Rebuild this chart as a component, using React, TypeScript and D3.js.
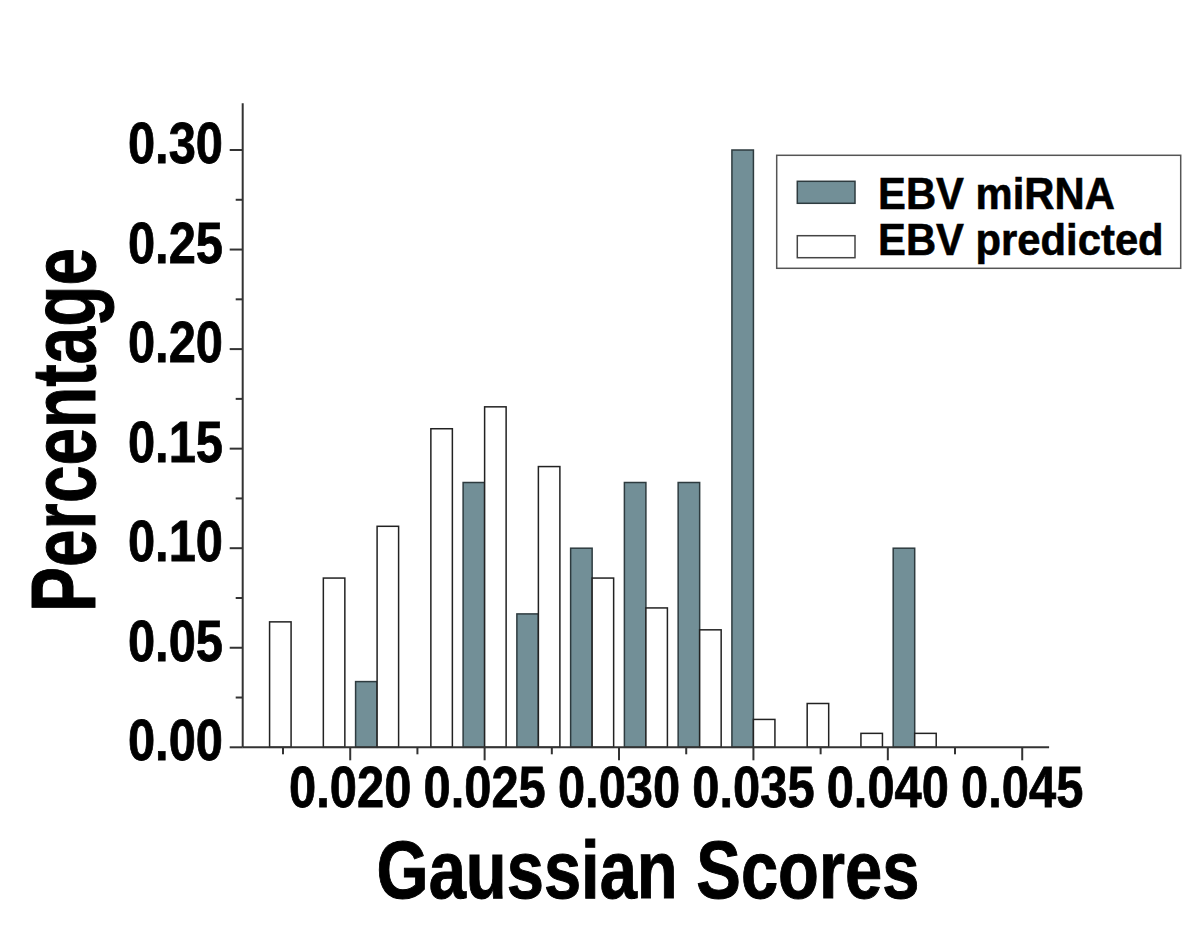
import React from "react";
import * as d3 from "d3";

// histogram bins (centre of each pair of bars)
const binCenters = [0.017, 0.019, 0.021, 0.023, 0.025, 0.027, 0.029, 0.031, 0.033, 0.035, 0.037, 0.039, 0.041];
const mirnaValues = [0, 0, 0.033, 0, 0.133, 0.067, 0.1, 0.133, 0.133, 0.3, 0, 0, 0.1];
const predictedValues = [0.063, 0.085, 0.111, 0.16, 0.171, 0.141, 0.085, 0.07, 0.059, 0.014, 0.022, 0.007, 0.007];

const xMajorTicks = [0.02, 0.025, 0.03, 0.035, 0.04, 0.045];
const xMinorTicks = [0.0175, 0.0225, 0.0275, 0.0325, 0.0375, 0.0425];
const yMajorTicks = [0, 0.05, 0.1, 0.15, 0.2, 0.25, 0.3];
const yMinorTicks = [0.025, 0.075, 0.125, 0.175, 0.225, 0.275];

const seriesNames = ["EBV miRNA", "EBV predicted"];

const W = 1200;
const H = 925;
const FONT = "'Liberation Sans', Arial, Helvetica, sans-serif";
const BLUE = "#728f97";
const BAR_W = 0.0008;

export default function App() {
  const x = d3.scaleLinear().domain([0.016, 0.046]).range([242.7, 1049.1]);
  const y = d3.scaleLinear().domain([0, 0.3]).range([747.3, 150]);
  const x0 = x.range()[0];
  const y0 = y(0);

  const fx = d3.format(".3f");
  const fy = d3.format(".2f");

  return (
    <svg
      width={W}
      height={H}
      style={{ position: "absolute", left: 0, top: 0, background: "#fff" }}
      fontFamily={FONT}
      fontWeight="bold"
    >
      {/* bars */}
      <g>
        {binCenters.map((c, i) =>
          mirnaValues[i] > 0 ? (
            <rect
              key={"m" + i}
              x={x(c - BAR_W)}
              y={y(mirnaValues[i])}
              width={x(c) - x(c - BAR_W)}
              height={y0 - y(mirnaValues[i])}
              fill={BLUE}
              stroke="#2e3b3f"
              strokeWidth={1.5}
            />
          ) : null
        )}
        {binCenters.map((c, i) =>
          predictedValues[i] > 0 ? (
            <rect
              key={"p" + i}
              x={x(c)}
              y={y(predictedValues[i])}
              width={x(c + BAR_W) - x(c)}
              height={y0 - y(predictedValues[i])}
              fill="#fff"
              stroke="#222"
              strokeWidth={1.5}
            />
          ) : null
        )}
      </g>

      {/* y axis */}
      <g stroke="#333" strokeWidth={2}>
        <line x1={x0} x2={x0} y1={y(0.3235)} y2={y0} />
        {yMajorTicks.map((t) => (
          <line key={t} x1={x0 - 13} x2={x0} y1={y(t)} y2={y(t)} />
        ))}
        {yMinorTicks.map((t) => (
          <line key={t} x1={x0 - 7} x2={x0} y1={y(t)} y2={y(t)} />
        ))}
      </g>
      <g fontSize={57} textAnchor="end" fill="#000" stroke="#000" strokeWidth={0.8}>
        {yMajorTicks.map((t) => (
          <text key={t} transform={`translate(223,${y(t) + 13}) scale(0.857,1)`}>
            {fy(t)}
          </text>
        ))}
      </g>

      {/* x axis */}
      <g stroke="#333" strokeWidth={2}>
        <line x1={x0} x2={x.range()[1]} y1={y0} y2={y0} />
        {xMajorTicks.map((t) => (
          <line key={t} x1={x(t)} x2={x(t)} y1={y0} y2={y0 + 13} />
        ))}
        {xMinorTicks.map((t) => (
          <line key={t} x1={x(t)} x2={x(t)} y1={y0} y2={y0 + 7} />
        ))}
      </g>
      <g fontSize={57} textAnchor="middle" fill="#000" stroke="#000" strokeWidth={0.8}>
        {xMajorTicks.map((t) => (
          <text key={t} transform={`translate(${x(t)},807) scale(0.857,1)`}>
            {fx(t)}
          </text>
        ))}
      </g>

      {/* axis titles */}
      <text
        transform="translate(648,898) scale(0.826,1)"
        textAnchor="middle"
        fontSize={81}
        fill="#000"
        stroke="#000"
        strokeWidth={1}
      >
        Gaussian Scores
      </text>
      <text
        transform="translate(94.5,430) rotate(-90) scale(0.75,1)"
        textAnchor="middle"
        fontSize={90}
        fill="#000"
        stroke="#000"
        strokeWidth={1}
      >
        Percentage
      </text>

      {/* legend */}
      <g>
        <rect x={776.7} y={155.3} width={404} height={113} fill="#fff" stroke="#555" strokeWidth={1.5} />
        <rect x={797.3} y={181.3} width={57.7} height={22} fill={BLUE} stroke="#2e3b3f" strokeWidth={1.5} />
        <rect x={797.3} y={235.7} width={57.7} height={22} fill="#fff" stroke="#444" strokeWidth={1.5} />
        <text transform="translate(878,209) scale(0.95,1)" fontSize={44} fill="#000" stroke="#000" strokeWidth={0.6}>
          {seriesNames[0]}
        </text>
        <text transform="translate(878,255) scale(0.95,1)" fontSize={44} fill="#000" stroke="#000" strokeWidth={0.6}>
          {seriesNames[1]}
        </text>
      </g>
    </svg>
  );
}
